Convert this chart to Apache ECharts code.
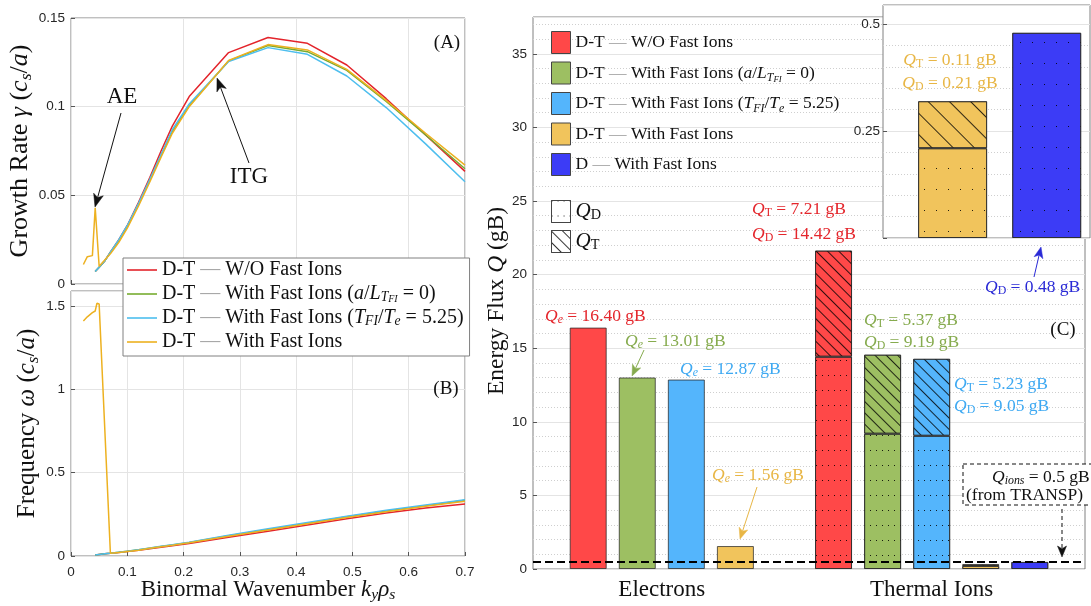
<!DOCTYPE html>
<html><head><meta charset="utf-8">
<script src="https://cdn.jsdelivr.net/npm/echarts@6/dist/echarts.min.js"></script>
<style>html,body{margin:0;padding:0;background:#fff}#c{width:1091px;height:606px}</style>
</head><body><div id="c"></div>
<script>
// ================= DATA =================
// Panels (A)/(B): growth rate and frequency vs binormal wavenumber
const kMain      = [0.043,0.05,0.06,0.07,0.085,0.10,0.12,0.14,0.16,0.18,0.21,0.28,0.35,0.42,0.49,0.56,0.63,0.70];
const gammaRed   = [0.0070,0.0095,0.0130,0.0180,0.0250,0.0330,0.0460,0.0600,0.0750,0.0890,0.1057,0.1305,0.1390,0.1357,0.1235,0.1045,0.0840,0.0635];
const gammaGreen = [0.0070,0.0095,0.0130,0.0178,0.0245,0.0325,0.0450,0.0585,0.0725,0.0860,0.1005,0.1258,0.1345,0.1310,0.1205,0.1030,0.0840,0.0650];
const gammaCyan  = [0.0070,0.0095,0.0130,0.0180,0.0250,0.0330,0.0455,0.0590,0.0730,0.0870,0.1015,0.1255,0.1333,0.1295,0.1173,0.0995,0.0790,0.0577];
const omegaRed   = [0.006,0.009,0.013,0.016,0.021,0.027,0.035,0.044,0.053,0.062,0.075,0.112,0.148,0.186,0.224,0.258,0.288,0.312];
const omegaGreen = [0.006,0.009,0.013,0.016,0.022,0.028,0.037,0.047,0.057,0.066,0.081,0.121,0.159,0.197,0.235,0.270,0.302,0.334];
const omegaCyan  = [0.006,0.009,0.013,0.017,0.022,0.028,0.038,0.048,0.058,0.068,0.083,0.124,0.163,0.201,0.239,0.274,0.306,0.338];
const kFI        = [0.022,0.029,0.038,0.041,0.043,0.046,0.050,0.070,0.085,0.10,0.12,0.14,0.16,0.18,0.21,0.28,0.35,0.42,0.49,0.56,0.63,0.70];
const gammaFI    = [0.0110,0.0154,0.0160,0.0165,0.0430,0.0420,0.0100,0.0170,0.0235,0.0315,0.0440,0.0575,0.0715,0.0850,0.1000,0.1260,0.1350,0.1320,0.1210,0.1035,0.0850,0.0670];
const omegaFI    = [1.410,1.435,1.460,1.462,1.470,1.516,1.512,0.016,0.021,0.027,0.035,0.046,0.056,0.065,0.079,0.118,0.156,0.194,0.231,0.266,0.298,0.328];
const lineNames  = ['D-T — W/O Fast Ions','D-T — With Fast Ions (a/L_TFI = 0)','D-T — With Fast Ions (TFI/Te = 5.25)','D-T — With Fast Ions'];

// Panel (C): energy flux (gB)
const groupNames   = ['Electrons','Thermal Ions'];
const caseNames    = ['D-T — W/O Fast Ions','D-T — With Fast Ions (a/L_TFI = 0)','D-T — With Fast Ions (TFI/Te = 5.25)','D-T — With Fast Ions','D — With Fast Ions'];
const electronQ    = [16.40, 13.01, 12.87, 1.56];          // Q_e for the four D-T cases
const ionQD        = [14.42, 9.19, 9.05, 0.21, 0.48];      // Q_D per case
const ionQT        = [7.21, 5.37, 5.23, 0.11, null];       // Q_T per case
const qIonsTransp  = 0.5;
const yTicksC      = [0,5,10,15,20,25,30,35];
const yTicksInset  = [0.25,0.5];

// ================= STYLE =================
const SERIF = '"Liberation Serif","Times New Roman",serif';
const SANS  = '"Liberation Sans",Arial,sans-serif';
const lineColors = ['#e3242b','#77ac30','#4dbeee','#edb120'];
const barColors  = ['#ff4848','#9dbf62','#54b5fc','#f1c45c','#3c3cf6'];
const txtColors  = ['#e4262c','#86ab4e','#3ea9f2','#e8b645','#2a2ad6'];
const frameC = '#808080', gridC = '#e4e4e4', minorC = '#cfcfcf', tickTxt = '#262626';

function rich(size, color, lh) {
  lh = lh || Math.round(size * 1.15);
  const base = {fontFamily: SERIF, fontSize: size, color: color, fill: color, lineHeight: lh};
  const sub = +(size * 0.68).toFixed(1);
  return {
    r: base,
    i: Object.assign({}, base, {fontStyle: 'italic'}),
    g: Object.assign({}, base, {color: '#a3a3a3', fill: '#a3a3a3'}),
    s: {fontFamily: SERIF, fontStyle: 'italic', fontSize: sub, color: color, fill: color, lineHeight: lh - size * 0.45, verticalAlign: 'bottom'},
    sr: {fontFamily: SERIF, fontSize: sub, color: color, fill: color, lineHeight: lh - size * 0.45, verticalAlign: 'bottom'},
    ss: {fontFamily: SERIF, fontStyle: 'italic', fontSize: +(size * 0.5).toFixed(1), color: color, fill: color, lineHeight: Math.max(2, lh - size * 0.8), verticalAlign: 'bottom'}
  };
}
const richMarkup = {
  'D-T — W/O Fast Ions': '{r|D-T }{g|—}{r| W/O Fast Ions}',
  'D-T — With Fast Ions (a/L_TFI = 0)': '{r|D-T }{g|—}{r| With Fast Ions (}{i|a}{r|/}{i|L}{s|T}{ss|FI}{r| = 0)}',
  'D-T — With Fast Ions (TFI/Te = 5.25)': '{r|D-T }{g|—}{r| With Fast Ions (}{i|T}{s|FI}{r|/}{i|T}{s|e}{r| = 5.25)}',
  'D-T — With Fast Ions': '{r|D-T }{g|—}{r| With Fast Ions}',
  'D — With Fast Ions': '{r|D }{g|—}{r| With Fast Ions}'
};

// decals
const dotDecal   = {symbol: 'rect', symbolSize: 1, color: 'rgba(0,0,0,0.85)', dashArrayX: [1, 5], dashArrayY: [1, 14], rotation: 0};
const hatchDecal = {symbol: 'rect', symbolSize: 1, color: 'rgba(0,0,0,0.8)', dashArrayX: [1, 0], dashArrayY: [1, 7], rotation: Math.PI / 4};
const dotDecalBig   = {symbol: 'rect', symbolSize: 1, color: 'rgba(0,0,0,0.85)', dashArrayX: [1, 11], dashArrayY: [1, 20], rotation: 0};
const hatchDecalBig = {symbol: 'rect', symbolSize: 1, color: 'rgba(0,0,0,0.8)', dashArrayX: [1, 0], dashArrayY: [1, 14], rotation: Math.PI / 4};

// ================= LAYOUT =================
const gC = {left: 533, top: 17, width: 552, height: 552};
const slotPad = 1.125;                       // empty space (in bar slots) at both ends
const nSlots = electronQ.length + 1 + ionQD.length;   // 4 + gap + 5 = 10
const slotW = gC.width / (nSlots + 2 * (slotPad - 0.5));
const ionStart = electronQ.length + 1;
const gIn = {left: 883, top: 5, width: 207, height: 233};
const inSlotW = 94.1, inFirstCenter = 952.6;

// ================= SERIES BUILD =================
const zip = (xs, ys) => xs.map((x, i) => [x, ys[i]]);
const gammaSets = [[kMain, gammaRed], [kMain, gammaGreen], [kMain, gammaCyan], [kFI, gammaFI]];
const omegaSets = [[kMain, omegaRed], [kMain, omegaGreen], [kMain, omegaCyan], [kFI, omegaFI]];
const series = [];
gammaSets.forEach((s, i) => series.push({
  type: 'line', name: 'L' + i, xAxisIndex: 0, yAxisIndex: 0, data: zip(s[0], s[1]), symbol: 'none',
  lineStyle: {width: 1.5, color: lineColors[i]}, itemStyle: {color: lineColors[i]}
}));
omegaSets.forEach((s, i) => series.push({
  type: 'line', name: 'L' + i, xAxisIndex: 1, yAxisIndex: 1, data: zip(s[0], s[1]), symbol: 'none',
  lineStyle: {width: 1.5, color: lineColors[i]}, itemStyle: {color: lineColors[i]}
}));
const blank = () => new Array(nSlots).fill('-');
const barBase = {type: 'bar', xAxisIndex: 3, yAxisIndex: 3, stack: 'q', barWidth: 37};
electronQ.forEach((v, i) => {
  const d = blank(); d[i] = v;
  series.push(Object.assign({}, barBase, {name: 'B' + i, data: d,
    itemStyle: {color: barColors[i], borderColor: 'rgba(40,40,40,0.75)', borderWidth: 1}}));
});
const dD = blank(), dT = blank();
ionQD.forEach((v, i) => { dD[ionStart + i] = {value: v, itemStyle: {color: barColors[i]}}; });
ionQT.forEach((v, i) => { if (v != null) dT[ionStart + i] = {value: v, itemStyle: {color: barColors[i]}}; });
series.push(Object.assign({}, barBase, {name: 'QD', data: dD,
  itemStyle: {color: '#fff', borderColor: 'rgba(40,40,40,0.75)', borderWidth: 1, decal: dotDecal}}));
series.push(Object.assign({}, barBase, {name: 'QT', data: dT,
  itemStyle: {color: '#fff', borderColor: 'rgba(40,40,40,0.75)', borderWidth: 1, decal: hatchDecal}}));
series.push(Object.assign({}, barBase, {name: 'B4', data: blank(),
  itemStyle: {color: barColors[4], borderColor: 'rgba(40,40,40,0.75)', borderWidth: 1}}));
// reference line Q_ions (main)
series.push({type: 'line', xAxisIndex: 2, yAxisIndex: 2, data: [], z: 4, silent: true,
  markLine: {symbol: 'none', silent: true, label: {show: false}, lineStyle: {type: [8, 4], color: '#000', width: 2},
    data: [{yAxis: qIonsTransp}]}});
// inset bars (last two cases, thermal ions)
const inD = [3, 4].map(c => ({value: ionQD[c], itemStyle: {color: barColors[c]}}));
const inT = [3, 4].map(c => ionQT[c] == null ? '-' : {value: ionQT[c], itemStyle: {color: barColors[c]}});
series.push({type: 'bar', xAxisIndex: 5, yAxisIndex: 5, stack: 'i', barWidth: 69, data: inD, z: 12,
  itemStyle: {color: '#fff', borderColor: 'rgba(40,40,40,0.75)', borderWidth: 1, decal: dotDecalBig}});
series.push({type: 'bar', xAxisIndex: 5, yAxisIndex: 5, stack: 'i', barWidth: 69, data: inT, z: 12,
  itemStyle: {color: '#fff', borderColor: 'rgba(40,40,40,0.75)', borderWidth: 1, decal: hatchDecalBig}});
series.push({type: 'line', xAxisIndex: 4, yAxisIndex: 4, data: [], z: 13, silent: true,
  markLine: {symbol: 'none', silent: true, label: {show: false}, lineStyle: {type: [8, 4], color: '#000', width: 2},
    data: [{yAxis: qIonsTransp}]}});

// ================= AXES =================
const lbl = {fontFamily: SANS, fontSize: 13.5, color: tickTxt};
const tickIn = {show: true, inside: true, length: 4, lineStyle: {color: '#555'}};
const noLine = {show: false, onZero: false};
const split = {show: true, lineStyle: {color: gridC, width: 1}};
const xAxis = [
  {gridIndex: 0, type: 'value', min: 0, max: 0.7, interval: 0.2, axisLine: noLine, axisTick: tickIn, axisLabel: {show: false}, splitLine: split},
  {gridIndex: 1, type: 'value', min: 0, max: 0.7, interval: 0.1, axisLine: noLine, axisTick: tickIn,
    axisLabel: Object.assign({margin: 9}, lbl), splitLine: split,
    name: '{r|Binormal Wavenumber }{i|k}{s|y}{i|ρ}{s|s}', nameLocation: 'middle', nameGap: 21, nameMoveOverlap: false,
    nameTextStyle: {rich: rich(23, '#111')}},
  {gridIndex: 2, type: 'value', min: -slotPad, max: nSlots - 1 + slotPad, axisLine: noLine, axisTick: {show: false}, splitLine: {show: false},
    axisLabel: {customValues: [(electronQ.length - 1) / 2, ionStart + (ionQD.length - 1) / 2],
      formatter: v => (Math.abs(v - (electronQ.length - 1) / 2) < 1e-6 ? groupNames[0] : (Math.abs(v - (ionStart + (ionQD.length - 1) / 2)) < 1e-6 ? groupNames[1] : '')),
      fontFamily: SERIF, fontSize: 23, color: '#111', margin: 9}},
  {gridIndex: 3, type: 'category', data: blank().map((_, i) => 'slot' + i), show: false, axisLine: noLine},
  {gridIndex: 4, type: 'value', min: 0, max: 1, show: false, axisLine: noLine},
  {gridIndex: 5, type: 'category', data: ['D-T', 'D'], show: false, axisLine: noLine}
];
const yAxis = [
  {gridIndex: 0, type: 'value', min: 0, max: 0.15, interval: 0.05, axisLine: noLine, axisTick: tickIn,
    axisLabel: Object.assign({margin: 6}, lbl), splitLine: split,
    name: '{r|Growth Rate }{i|γ}{r| (}{i|c}{s|s}{r|/}{i|a}{r|)}', nameLocation: 'middle', nameGap: 36, nameMoveOverlap: false,
    nameTextStyle: {rich: rich(26, '#111')}},
  {gridIndex: 1, type: 'value', min: 0, max: 1.59, interval: 0.5, axisLine: noLine, axisTick: tickIn,
    axisLabel: Object.assign({margin: 6, showMaxLabel: false}, lbl), splitLine: split,
    name: '{r|Frequency }{i|ω}{r| (}{i|c}{s|s}{r|/}{i|a}{r|)}', nameLocation: 'middle', nameGap: 29, nameMoveOverlap: false,
    nameTextStyle: {rich: rich(25, '#111')}},
  {gridIndex: 2, type: 'value', min: 0, max: 37.5, interval: yTicksC[1] - yTicksC[0], axisLine: noLine, axisTick: tickIn,
    axisLabel: Object.assign({margin: 6, showMaxLabel: false}, lbl), splitLine: split,
    minorTick: {show: false, splitNumber: 5}, minorSplitLine: {show: true, lineStyle: {color: minorC, type: [1, 2], width: 1}},
    name: '{r|Energy Flux }{i|Q}{r| (gB)}', nameLocation: 'middle', nameGap: 23, nameMoveOverlap: false,
    nameTextStyle: {rich: rich(23.5, '#111'), padding: [0, 16, 0, 0]}},
  {gridIndex: 3, type: 'value', min: 0, max: 37.5, show: false, axisLine: noLine},
  {gridIndex: 4, type: 'value', min: 0, max: 0.545, interval: yTicksInset[1] - yTicksInset[0], z: 11, axisLine: noLine, axisTick: tickIn,
    axisLabel: Object.assign({margin: 3, showMaxLabel: false, formatter: v => (v === 0 ? '' : String(v))}, lbl), splitLine: split,
    minorTick: {show: false, splitNumber: 5}, minorSplitLine: {show: true, lineStyle: {color: minorC, type: [1, 2], width: 1}}},
  {gridIndex: 5, type: 'value', min: 0, max: 0.545, show: false, axisLine: noLine}
];

// ================= ANNOTATIONS =================
function txt(x, y, markup, color, size, align) {
  return {type: 'text', x: x, y: y, z: 30, silent: true,
    style: {text: markup, rich: rich(size, color), fill: color, fontFamily: SERIF, fontSize: size, align: align || 'left', verticalAlign: 'middle'}};
}
function arrow(x1, y1, x2, y2, color, dashed, L, W) {
  L = L || 12; W = W || 4.5;
  const a = Math.atan2(y2 - y1, x2 - x1), c = Math.cos(a), s = Math.sin(a);
  const bx = x2 - L * c, by = y2 - L * s, nx = x2 - 0.75 * L * c, ny = y2 - 0.75 * L * s;
  return [
    {type: 'line', z: 30, silent: true, shape: {x1: x1, y1: y1, x2: nx, y2: ny},
      style: {stroke: color, lineWidth: 1, lineDash: dashed ? [4, 3] : null}},
    {type: 'polygon', z: 30, silent: true, shape: {points: [[x2, y2], [bx + W * s, by - W * c], [nx, ny], [bx - W * s, by + W * c]]},
      style: {fill: color, stroke: color, lineWidth: 0.5}}
  ];
}
const graphics = [
  txt(447, 43, '{r|(A)}', '#111', 19, 'center'),
  txt(446, 389, '{r|(B)}', '#111', 19, 'center'),
  txt(1063, 330, '{r|(C)}', '#111', 19, 'center'),
  txt(122, 97, '{r|AE}', '#111', 23, 'center'),
  txt(249, 177, '{r|ITG}', '#111', 23, 'center'),
  ...arrow(121, 113, 95, 207, '#111', false, 13, 5),
  ...arrow(249, 163, 217, 78, '#111', false, 13, 5),
  txt(545, 316, '{i|Q}{s|e}{r| = ' + electronQ[0].toFixed(2) + ' gB}', txtColors[0], 17.5),
  txt(625, 341, '{i|Q}{s|e}{r| = ' + electronQ[1].toFixed(2) + ' gB}', txtColors[1], 17.5),
  ...arrow(644, 350, 632, 376, txtColors[1], false, 11, 4.5),
  txt(680, 369, '{i|Q}{s|e}{r| = ' + electronQ[2].toFixed(2) + ' gB}', txtColors[2], 17.5),
  txt(712, 475, '{i|Q}{s|e}{r| = ' + electronQ[3].toFixed(2) + ' gB}', txtColors[3], 17.5),
  ...arrow(757, 487, 740, 539, txtColors[3], false, 11, 4.5),
  txt(752, 209, '{i|Q}{sr|T}{r| = ' + ionQT[0].toFixed(2) + ' gB}', txtColors[0], 17.5),
  txt(752, 234, '{i|Q}{sr|D}{r| = ' + ionQD[0].toFixed(2) + ' gB}', txtColors[0], 17.5),
  txt(864, 320, '{i|Q}{sr|T}{r| = ' + ionQT[1].toFixed(2) + ' gB}', txtColors[1], 17.5),
  txt(864, 342, '{i|Q}{sr|D}{r| = ' + ionQD[1].toFixed(2) + ' gB}', txtColors[1], 17.5),
  txt(954, 384, '{i|Q}{sr|T}{r| = ' + ionQT[2].toFixed(2) + ' gB}', txtColors[2], 17.5),
  txt(954, 406, '{i|Q}{sr|D}{r| = ' + ionQD[2].toFixed(2) + ' gB}', txtColors[2], 17.5),
  txt(985, 287, '{i|Q}{sr|D}{r| = ' + ionQD[4].toFixed(2) + ' gB}', txtColors[4], 17.5),
  ...arrow(1034, 277, 1041, 247, txtColors[4], false, 11, 4.5),
  txt(950, 60, '{i|Q}{sr|T}{r| = ' + ionQT[3].toFixed(2) + ' gB}', txtColors[3], 17.5, 'center'),
  txt(950, 83, '{i|Q}{sr|D}{r| = ' + ionQD[3].toFixed(2) + ' gB}', txtColors[3], 17.5, 'center'),
  {type: 'rect', z: 30, silent: true, shape: {x: 963, y: 464, width: 140, height: 41},
    style: {fill: '#fff', stroke: '#111', lineWidth: 1, lineDash: [4, 3]}},
  txt(992, 477, '{i|Q}{s|ions}{r| = ' + qIonsTransp + ' gB}', '#111', 17.5),
  txt(966, 495, '{r|(from TRANSP)}', '#111', 17.5),
  ...arrow(1062, 509, 1062, 557, '#111', true, 11, 4.5)
];

// ================= OPTION =================
const legendRichL = rich(20, '#111', 20);
const legendRichR = rich(17.5, '#111', 22);
const legendRichQ = rich(21, '#111', 22);
const option = {
  animation: false,
  backgroundColor: '#fff',
  grid: [
    {left: 71, top: 18, width: 394, height: 266, show: true, borderColor: frameC, borderWidth: 1, outerBoundsMode: 'none'},
    {left: 71, top: 291, width: 394, height: 265, show: true, borderColor: frameC, borderWidth: 1, outerBoundsMode: 'none'},
    {left: gC.left, top: gC.top, width: gC.width, height: gC.height, show: true, borderColor: frameC, borderWidth: 1, outerBoundsMode: 'none'},
    {left: gC.left + (slotPad - 0.5) * slotW, top: gC.top, width: nSlots * slotW, height: gC.height, show: false, outerBoundsMode: 'none'},
    {left: gIn.left, top: gIn.top, width: gIn.width, height: gIn.height, show: true, backgroundColor: '#fff', borderColor: frameC, borderWidth: 1, z: 10, outerBoundsMode: 'none'},
    {left: inFirstCenter - inSlotW / 2, top: gIn.top, width: 2 * inSlotW, height: gIn.height, show: false, outerBoundsMode: 'none'}
  ],
  xAxis: xAxis,
  yAxis: yAxis,
  legend: [
    {data: ['L0', 'L1', 'L2', 'L3'], orient: 'vertical', left: 123, top: 258, padding: [2, 6, 4, 4], icon: 'rect',
      itemWidth: 30, itemHeight: 1.6, itemGap: 4, itemTextGap: 5, selectedMode: false,
      itemStyle: {borderWidth: 0},
      backgroundColor: '#fff', borderColor: frameC, borderWidth: 1, z: 8,
      formatter: n => richMarkup[lineNames[+n.slice(1)]], textStyle: {rich: legendRichL}},
    {data: ['B0', 'B1', 'B2', 'B3', 'B4'], orient: 'vertical', left: 551, top: 31, padding: 0, icon: 'rect',
      itemWidth: 19, itemHeight: 22, itemGap: 7.5, itemTextGap: 12, selectedMode: false,
      itemStyle: {borderColor: '#444', borderWidth: 1},
      formatter: n => richMarkup[caseNames[+n.slice(1)]], textStyle: {rich: legendRichR}},
    {data: ['QD', 'QT'], orient: 'vertical', left: 551, top: 200, padding: 0, icon: 'rect',
      itemWidth: 19, itemHeight: 22, itemGap: 7, itemTextGap: 13, selectedMode: false,
      itemStyle: {borderColor: '#444', borderWidth: 1},
      formatter: n => (n === 'QD' ? '{i|Q}{sr|D}' : '{i|Q}{sr|T}'), textStyle: {rich: legendRichQ}}
  ],
  series: series,
  graphic: graphics
};
const chart = echarts.init(document.getElementById('c'));
chart.setOption(option);
</script></body></html>
